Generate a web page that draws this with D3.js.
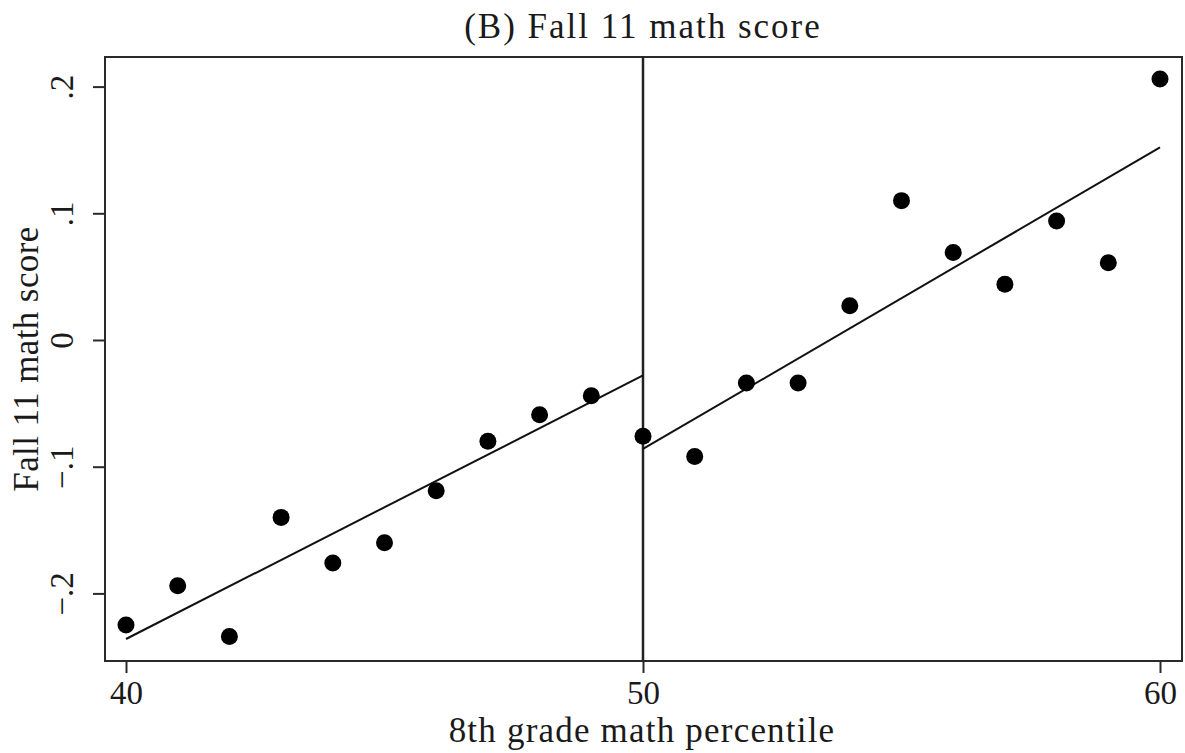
<!DOCTYPE html>
<html>
<head>
<meta charset="utf-8">
<script src="https://cdn.jsdelivr.net/npm/d3@7"></script>
<style>
  body { margin: 0; background: #fff; }
  text { font-family: "Liberation Serif", serif; fill: #1a1a1a; }
</style>
</head>
<body>
<svg id="chart" width="1185" height="753"></svg>
<script>
// binned means
const percentiles = [40, 41, 42, 43, 44, 45, 46, 47, 48, 49, 50, 51, 52, 53, 54, 55, 56, 57, 58, 59, 60];
const scores = [-0.225, -0.194, -0.234, -0.140, -0.176, -0.160, -0.119, -0.080, -0.059, -0.044,
                -0.076, -0.092, -0.034, -0.034, 0.027, 0.110, 0.069, 0.044, 0.094, 0.061, 0.206];

// fitted lines on each side of the cutoff
const fitLeft = [[40, -0.236], [50, -0.028]];
const fitRight = [[50, -0.086], [60, 0.152]];
const cutoff = 50;

const xTicks = [40, 50, 60];
const yTicks = [-0.2, -0.1, 0, 0.1, 0.2];
const yTickLabels = ['\u2212.2', '\u2212.1', '0', '.1', '.2'];

const svg = d3.select('#chart');
const plotL = 105, plotR = 1182, plotT = 57, plotB = 661;

const x = d3.scaleLinear().domain([40, 60]).range([126, 1160]);
const y = d3.scaleLinear().domain([-0.1, 0.1]).range([466.7, 213.3]);

// frame
svg.append('rect')
    .attr('x', plotL).attr('y', plotT)
    .attr('width', plotR - plotL).attr('height', plotB - plotT)
    .attr('fill', 'none').attr('stroke', '#2a2a2a').attr('stroke-width', 2);

// x axis
const xAxis = svg.append('g').attr('transform', `translate(0,${plotB})`)
    .call(d3.axisBottom(x).tickValues(xTicks).tickSize(12).tickPadding(8).tickFormat(d3.format('d')));
xAxis.select('.domain').remove();
xAxis.selectAll('line').attr('stroke', '#2a2a2a').attr('stroke-width', 2);
xAxis.selectAll('text').attr('font-size', 33).attr('font-family', '"Liberation Serif", serif').attr('fill', '#1a1a1a');

// y axis, labels rotated
const yAxis = svg.append('g').attr('transform', `translate(${plotL},0)`)
    .call(d3.axisLeft(y).tickValues(yTicks).tickSize(12).tickFormat((d, i) => yTickLabels[i]));
yAxis.select('.domain').remove();
yAxis.selectAll('line').attr('stroke', '#2a2a2a').attr('stroke-width', 2);
yAxis.selectAll('text')
    .attr('x', 0).attr('dy', 0)
    .attr('font-size', 33).attr('font-family', '"Liberation Serif", serif').attr('fill', '#1a1a1a')
    .attr('text-anchor', 'middle')
    .attr('transform', 'translate(-32,0) rotate(-90)');

// cutoff
svg.append('line')
    .attr('x1', x(cutoff)).attr('x2', x(cutoff))
    .attr('y1', plotT).attr('y2', plotB)
    .attr('stroke', '#222').attr('stroke-width', 2.5);

// fit lines
const line = d3.line().x(d => x(d[0])).y(d => y(d[1]));
[fitLeft, fitRight].forEach(seg => {
    svg.append('path').attr('d', line(seg))
        .attr('fill', 'none').attr('stroke', '#111').attr('stroke-width', 2);
});

// points
svg.append('g').selectAll('circle')
    .data(percentiles)
    .join('circle')
    .attr('cx', d => x(d))
    .attr('cy', (d, i) => y(scores[i]))
    .attr('r', 8.5)
    .attr('fill', '#000');

// titles
svg.append('text')
    .attr('x', 643).attr('y', 38)
    .attr('text-anchor', 'middle').attr('font-size', 35)
    .attr('letter-spacing', 2)
    .text('(B) Fall 11 math score');

svg.append('text')
    .attr('x', 642).attr('y', 742)
    .attr('text-anchor', 'middle').attr('font-size', 35)
    .attr('letter-spacing', 1.2)
    .text('8th grade math percentile');

svg.append('text')
    .attr('transform', 'translate(38,359) rotate(-90)')
    .attr('text-anchor', 'middle').attr('font-size', 35)
    .attr('letter-spacing', 0.4)
    .text('Fall 11 math score');
</script>
</body>
</html>
